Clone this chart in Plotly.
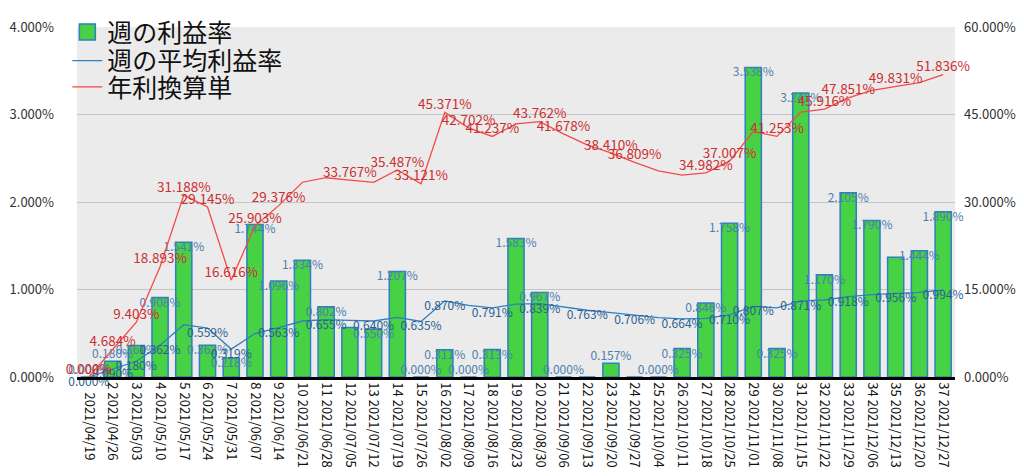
import plotly.graph_objects as go

# 週ごとのデータ (2021/04/19 - 2021/12/27)
weeks = ["2021/04/19", "2021/04/26", "2021/05/03", "2021/05/10", "2021/05/17", "2021/05/24",
         "2021/05/31", "2021/06/07", "2021/06/14", "2021/06/21", "2021/06/28", "2021/07/05",
         "2021/07/12", "2021/07/19", "2021/07/26", "2021/08/02", "2021/08/09", "2021/08/16",
         "2021/08/23", "2021/08/30", "2021/09/06", "2021/09/13", "2021/09/20", "2021/09/27",
         "2021/10/04", "2021/10/11", "2021/10/18", "2021/10/25", "2021/11/01", "2021/11/08",
         "2021/11/15", "2021/11/22", "2021/11/29", "2021/12/06", "2021/12/13", "2021/12/20",
         "2021/12/27"]

weekly_rate = [0.000, 0.180, 0.361, 0.908, 1.541, 0.362, 0.218, 1.744, 1.096, 1.334, 0.802, 0.565,
               0.550, 1.207, 0.000, 0.311, 0.000, 0.313, 1.583, 0.967, 0.000, 0.000, 0.157, 0.000,
               0.000, 0.325, 0.846, 1.758, 3.538, 0.325, 3.245, 1.170, 2.105, 1.790, 1.370, 1.444,
               1.890]

avg_rate = [0.000, 0.090, 0.180, 0.362, 0.598, 0.559, 0.319, 0.497, 0.563, 0.640, 0.655, 0.648,
            0.640, 0.681, 0.635, 0.870, 0.819, 0.791, 0.832, 0.839, 0.799, 0.763, 0.736, 0.706,
            0.678, 0.664, 0.671, 0.710, 0.807, 0.791, 0.871, 0.880, 0.918, 0.942, 0.956, 0.968,
            0.994]

annual_rate = [0.000, 4.684, 9.403, 18.893, 31.188, 29.145, 16.616, 25.903, 29.376, 33.390, 34.160,
               33.767, 33.370, 35.487, 33.121, 45.371, 42.702, 41.237, 43.380, 43.762, 41.678,
               39.790, 38.410, 36.809, 35.330, 34.620, 34.982, 37.007, 42.080, 41.253, 45.410,
               45.916, 47.851, 49.130, 49.831, 50.470, 51.836]

# 重なって表示されていないラベル (週番号)
hidden_bar = [12, 22, 24, 35]
hidden_avg = [5, 8, 10, 12, 14, 17, 19, 21, 23, 25, 27, 30, 32, 34, 36]
hidden_annual = [10, 11, 13, 19, 22, 25, 26, 29, 31, 34, 36]

n = len(weeks)
cats = [f"{i + 1} {w}" for i, w in enumerate(weeks)]
cats[0] = "\u2007\u00a0" + weeks[0]


def labels(values, hidden):
    return ["" if i + 1 in hidden else f"{v:.3f}%" for i, v in enumerate(values)]


FONT = "Noto Sans CJK JP, Noto Sans, sans-serif"
GREEN = "#46d244"
BLUE = "#2f7fc1"
RED = "#f44a4a"

fig = go.Figure()

fig.add_trace(go.Bar(
    x=cats, y=weekly_rate, name="週の利益率",
    marker=dict(color=GREEN, line=dict(color=BLUE, width=1.5)),
    showlegend=False, yaxis="y",
))
fig.add_trace(go.Scatter(
    x=cats, y=avg_rate, name="週の平均利益率", mode="lines",
    line=dict(color=BLUE, width=1.3), yaxis="y", legend="legend2",
))
fig.add_trace(go.Scatter(
    x=cats, y=annual_rate, name="年利換算単", mode="lines",
    line=dict(color=RED, width=1.3), yaxis="y2", legend="legend3",
))
# 凡例用 (棒の四角マーカー)
fig.add_trace(go.Scatter(
    x=[None], y=[None], name="週の利益率", mode="markers",
    marker=dict(symbol="square", size=21, color=GREEN, line=dict(color=BLUE, width=1.5)),
    legend="legend",
))

# データラベル
fig.add_trace(go.Scatter(
    x=cats, y=weekly_rate, mode="text", text=labels(weekly_rate, hidden_bar),
    textposition=["top center" if v < 0.2 else "bottom center" for v in weekly_rate],
    textfont=dict(family=FONT, size=12, color="#4a80b0"),
    showlegend=False, hoverinfo="skip", cliponaxis=False, yaxis="y",
))
fig.add_trace(go.Scatter(
    x=cats, y=avg_rate, mode="text", text=labels(avg_rate, hidden_avg),
    textposition="bottom center",
    textfont=dict(family=FONT, size=12, color="#2b5f92"),
    showlegend=False, hoverinfo="skip", cliponaxis=False, yaxis="y",
))
fig.add_trace(go.Scatter(
    x=cats, y=annual_rate, mode="text", text=labels(annual_rate, hidden_annual),
    textposition="top center",
    textfont=dict(family=FONT, size=13.5, color="#cc2f2f"),
    showlegend=False, hoverinfo="skip", cliponaxis=False, yaxis="y2",
))

legend_style = dict(x=-0.011, xanchor="left", yanchor="middle", bgcolor="rgba(0,0,0,0)",
                    font=dict(size=25, color="#111111"), itemwidth=30, itemsizing="trace")

fig.update_layout(
    width=1024, height=476,
    margin=dict(l=69, r=77, t=19, b=107, autoexpand=False),
    paper_bgcolor="white", plot_bgcolor="#ebebeb",
    font=dict(family=FONT, size=13, color="#333333"),
    bargap=0.32,
    showlegend=True,
    legend=dict(y=0.985, **legend_style),
    legend2=dict(y=0.903, **legend_style),
    legend3=dict(y=0.828, **legend_style),
    xaxis=dict(type="category", tickangle=90, showgrid=False,
               showline=True, linecolor="black", linewidth=2.5,
               tickfont=dict(size=13, color="#111111"), ticks="",
               range=[-0.5, n - 0.5]),
    yaxis=dict(range=[0, 4], dtick=1, tickformat=".3f", ticksuffix="%",
               showgrid=True, gridcolor="#c4c4c4", gridwidth=1, zeroline=False,
               ticks="", ticklabelstandoff=22, tickfont=dict(size=13, color="#333333")),
    yaxis2=dict(range=[0, 60], dtick=15, tickformat=".3f", ticksuffix="%",
                overlaying="y", side="right", showgrid=False, zeroline=False,
                ticks="", ticklabelstandoff=8, tickfont=dict(size=13, color="#333333")),
)

fig.write_html("out.html")
